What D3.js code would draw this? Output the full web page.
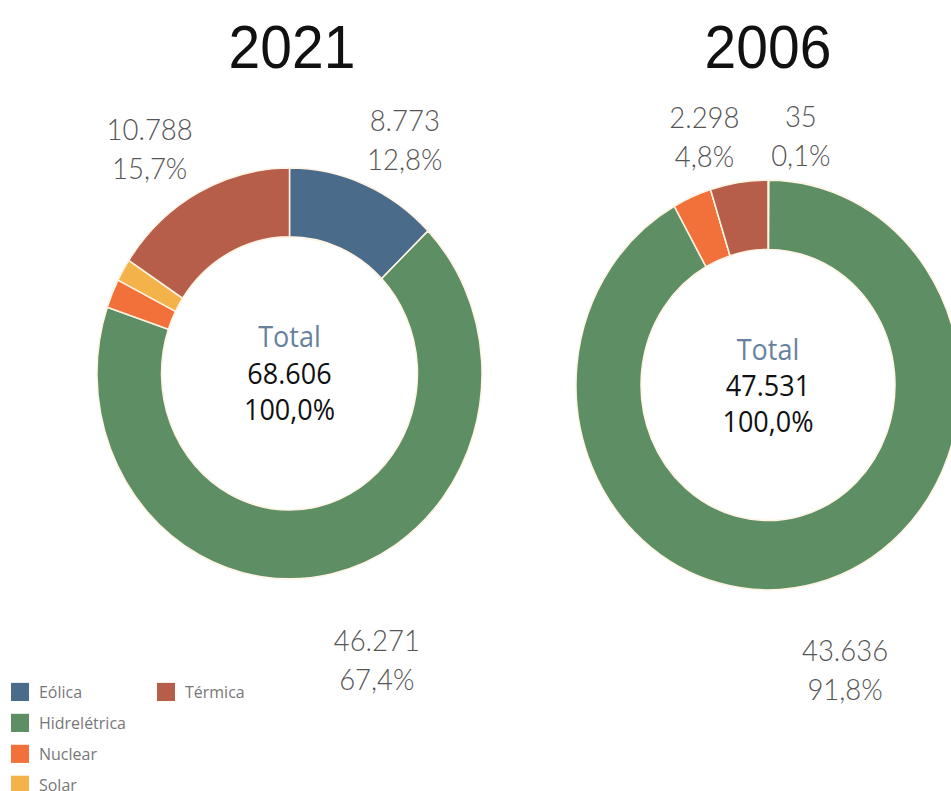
<!DOCTYPE html>
<html>
<head>
<meta charset="utf-8">
<script src="https://cdn.jsdelivr.net/npm/d3@7"></script>
<style>
  html, body { margin: 0; padding: 0; background: #ffffff; }
  svg { display: block; }
</style>
</head>
<body>
<div id="chart"></div>
<script>
// Installed capacity by source (MW), two snapshots
const categories = ["Eólica", "Hidrelétrica", "Nuclear", "Solar", "Térmica"];
const years = ["2021", "2006"];
const values2021 = [8773, 46271, 1560, 1214, 10788];
const values2006 = [35, 43636, 1562, 0, 2298];
const labeled2021 = ["Eólica", "Hidrelétrica", "Térmica"];
const labeled2006 = ["Eólica", "Hidrelétrica", "Térmica"];
const legendColumns = [["Eólica", "Hidrelétrica", "Nuclear", "Solar"], ["Térmica"]];

const colors = d3.scaleOrdinal()
  .domain(categories)
  .range(["#4b6b8b", "#5e8e63", "#f2713a", "#f4b24b", "#b65e49"]);

const W = 951, H = 791, SY = 1.067;      // drawing is stretched slightly in y
const VH = H / SY;

const ptBR = d3.formatLocale({ decimal: ",", thousands: ".", grouping: [3], currency: ["R$", ""] });
const fmtNum = ptBR.format(",d");
const fmtPct = ptBR.format(".1%");

const svg = d3.select("#chart").append("svg")
  .attr("width", W).attr("height", H)
  .attr("viewBox", `0 0 ${W} ${VH}`)
  .attr("preserveAspectRatio", "none");

// per-donut layout
const panels = [
  { year: years[0], values: values2021, labeled: labeled2021,
    cx: 289.5, cy: 350, rOut: 192.5, rIn: 128, titleX: 292,
    labelPos: { "Eólica": [4.8, 247], "Hidrelétrica": [-5.4, 283], "Térmica": [-5.4, 252] },
    centerDy: 0 },
  { year: years[1], values: values2006, labeled: labeled2006,
    cx: 768, cy: 360.8, rOut: 192, rIn: 127, titleX: 768,
    labelPos: { "Eólica": [7.9, 235], "Hidrelétrica": [-1.6, 278], "Térmica": [-6.6, 241] },
    centerDy: 1 }
];

const pie = d3.pie().sort(null).value(d => d.value);

panels.forEach(p => {
  const rows = categories.map((c, i) => ({ cat: c, value: p.values[i] }));
  const total = d3.sum(rows, d => d.value);
  const arcs = pie(rows);
  const arc = d3.arc().innerRadius(p.rIn).outerRadius(p.rOut);

  // title
  svg.append("text")
    .attr("x", p.titleX).attr("y", 63.5)
    .attr("text-anchor", "middle")
    .attr("font-family", "Liberation Sans, Arial, sans-serif")
    .attr("font-size", 57)
    .attr("fill", "#111")
    .text(p.year);

  const g = svg.append("g").attr("transform", `translate(${p.cx},${p.cy})`);

  g.selectAll("path.slice").data(arcs).join("path")
    .attr("class", "slice")
    .attr("d", arc)
    .attr("fill", d => colors(d.data.cat))
    .attr("stroke", "#fff3e4")
    .attr("stroke-width", 1.5)
    .attr("stroke-linejoin", "round");

  // outside value labels
  const lab = g.selectAll("g.lab").data(arcs.filter(d => p.labeled.includes(d.data.cat))).join("g")
    .attr("class", "lab")
    .attr("transform", d => {
      const [da, r] = p.labelPos[d.data.cat];
      const a = (d.startAngle + d.endAngle) / 2 + da * Math.PI / 180;
      return `translate(${r * Math.sin(a)},${-r * Math.cos(a)})`;
    });
  lab.append("text")
    .attr("y", -18.3 + 9.5)
    .attr("text-anchor", "middle")
    .attr("font-family", "Lato, 'Open Sans', sans-serif")
    .attr("font-weight", 300)
    .attr("font-size", 27.5)
    .attr("fill", "#555")
    .text(d => fmtNum(d.data.value));
  lab.append("text")
    .attr("y", 18.3 + 9.5)
    .attr("text-anchor", "middle")
    .attr("font-family", "Lato, 'Open Sans', sans-serif")
    .attr("font-weight", 300)
    .attr("font-size", 27.5)
    .attr("fill", "#555")
    .text(d => fmtPct(d.data.value / total));

  // centre total
  const c = g.append("g").attr("transform", `translate(0,${p.centerDy})`)
    .attr("text-anchor", "middle")
    .attr("font-family", "'Open Sans', 'Noto Sans', sans-serif")
    .attr("font-size", 27);
  c.append("text").attr("y", -34 + 9.5).attr("fill", "#66829e").text("Total");
  c.append("text").attr("y", 0 + 9.5).attr("fill", "#111").text(fmtNum(total));
  c.append("text").attr("y", 34 + 9.5).attr("fill", "#111").text(fmtPct(1));
});

// legend
const legX = [11, 157], legY0 = 648.5, legStep = 29;
legendColumns.forEach((col, ci) => {
  col.forEach((cat, ri) => {
    const y = legY0 + ri * legStep;
    svg.append("rect")
      .attr("x", legX[ci]).attr("y", y - 8.5)
      .attr("width", 18).attr("height", 17)
      .attr("fill", colors(cat));
    svg.append("text")
      .attr("x", legX[ci] + 28).attr("y", y + 5.5)
      .attr("font-family", "'Open Sans', 'Noto Sans', sans-serif")
      .attr("font-size", 16)
      .attr("fill", "#777")
      .text(cat);
  });
});
</script>
</body>
</html>
